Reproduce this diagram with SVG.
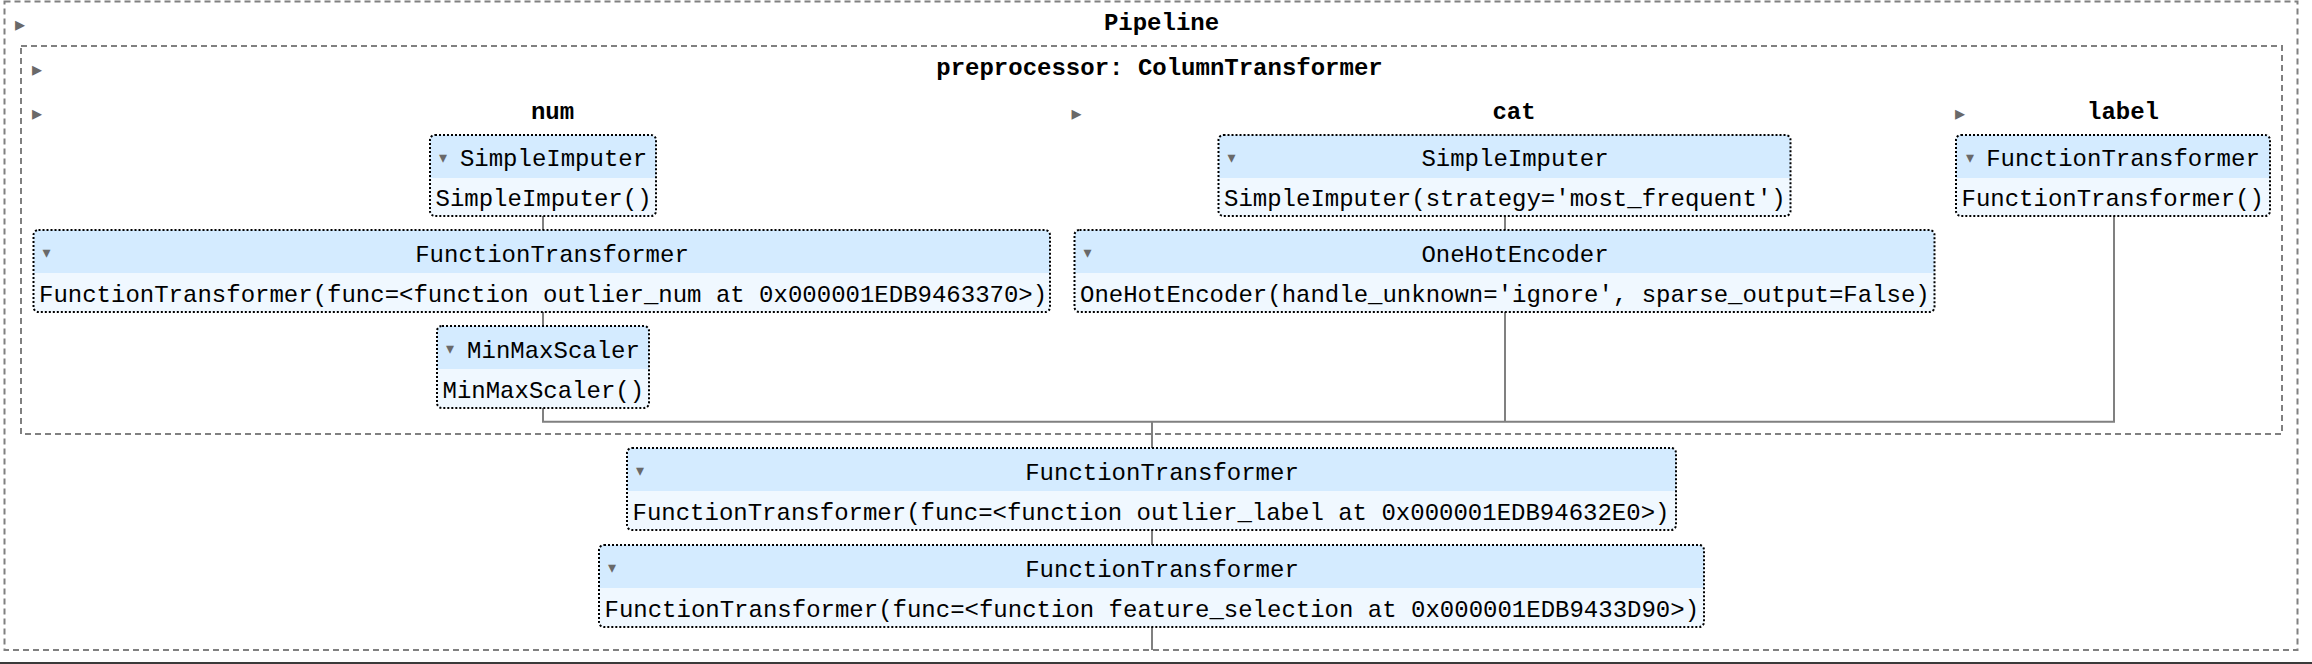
<svg xmlns="http://www.w3.org/2000/svg" width="2312" height="664" viewBox="0 0 2312 664">
<style>
.bg{fill:#ffffff}
.cont{fill:none;stroke:#808080;stroke-width:2;stroke-dasharray:6 4}
.hdr{fill:#d4ebff}
.body{fill:#f0f8ff}
.bord{fill:none;stroke:#000;stroke-width:2;stroke-dasharray:2 2}
.conn{fill:none;stroke:#808080;stroke-width:2}
.t{font-family:"Liberation Mono","DejaVu Sans Mono",monospace;font-size:24px;fill:#000}
.b{font-family:"Liberation Mono","DejaVu Sans Mono",monospace;font-size:24px;font-weight:bold;fill:#000;text-anchor:middle}
.c{text-anchor:middle}
.ad{font-family:"DejaVu Sans",sans-serif;font-size:16px;fill:#696969;text-anchor:middle}
.ar{font-family:"DejaVu Sans",sans-serif;font-size:20px;fill:#696969;text-anchor:middle}
</style>
<rect class="bg" x="0" y="0" width="2312" height="664"/>
<g id="pipeline">
<rect class="cont" x="4.5" y="1.5" width="2293" height="648.5"/>
<text class="ar" x="20" y="31">▸</text>
<text class="b" x="1161.5" y="30">Pipeline</text>
</g>
<g id="preprocessor">
<rect class="cont" x="21" y="46" width="2261" height="388"/>
<text class="ar" x="37" y="76">▸</text>
<text class="b" x="1159.5" y="75">preprocessor: ColumnTransformer</text>
<text class="ar" x="37" y="120">▸</text>
<text class="b" x="552.5" y="119">num</text>
<text class="ar" x="1076.5" y="120">▸</text>
<text class="b" x="1514" y="119">cat</text>
<text class="ar" x="1960" y="120">▸</text>
<text class="b" x="2123" y="119">label</text>
</g>
<g id="connectors">
<line class="conn" x1="543" y1="216" x2="543" y2="230"/>
<line class="conn" x1="543" y1="312" x2="543" y2="326"/>
<polyline class="conn" points="543,408 543,421.7 2114,421.7 2114,216"/>
<line class="conn" x1="1505" y1="216" x2="1505" y2="230"/>
<line class="conn" x1="1505" y1="312" x2="1505" y2="421.7"/>
<line class="conn" x1="1152" y1="421.7" x2="1152" y2="448"/>
<line class="conn" x1="1152" y1="530" x2="1152" y2="545"/>
<line class="conn" x1="1152" y1="627" x2="1152" y2="650"/>
</g>
<g id="num_simpleimputer">
<rect class="hdr" x="430" y="135" width="226" height="81" rx="5"/>
<rect class="body" x="430" y="178" width="226" height="38" rx="5"/>
<rect class="body" x="430" y="178" width="226" height="8"/>
<rect class="bord" x="430" y="135" width="226" height="81" rx="5"/>
<text class="ad" x="443" y="163">▾</text>
<text class="t c" x="553.5" y="166">SimpleImputer</text>
<text class="t" x="435.5" y="206">SimpleImputer()</text>
</g>
<g id="num_functiontransformer">
<rect class="hdr" x="33.5" y="230" width="1016.5" height="82" rx="5"/>
<rect class="body" x="33.5" y="273" width="1016.5" height="39" rx="5"/>
<rect class="body" x="33.5" y="273" width="1016.5" height="8"/>
<rect class="bord" x="33.5" y="230" width="1016.5" height="82" rx="5"/>
<text class="ad" x="46.5" y="258">▾</text>
<text class="t c" x="552" y="262">FunctionTransformer</text>
<text class="t" x="39" y="302">FunctionTransformer(func=&lt;function outlier_num at 0x000001EDB9463370&gt;)</text>
</g>
<g id="num_minmaxscaler">
<rect class="hdr" x="437" y="326" width="212" height="82" rx="5"/>
<rect class="body" x="437" y="369" width="212" height="39" rx="5"/>
<rect class="body" x="437" y="369" width="212" height="8"/>
<rect class="bord" x="437" y="326" width="212" height="82" rx="5"/>
<text class="ad" x="450" y="354">▾</text>
<text class="t c" x="553.5" y="358">MinMaxScaler</text>
<text class="t" x="442.5" y="398">MinMaxScaler()</text>
</g>
<g id="cat_simpleimputer">
<rect class="hdr" x="1218.5" y="135" width="572" height="81" rx="5"/>
<rect class="body" x="1218.5" y="178" width="572" height="38" rx="5"/>
<rect class="body" x="1218.5" y="178" width="572" height="8"/>
<rect class="bord" x="1218.5" y="135" width="572" height="81" rx="5"/>
<text class="ad" x="1231.5" y="163">▾</text>
<text class="t c" x="1515" y="166">SimpleImputer</text>
<text class="t" x="1224" y="206">SimpleImputer(strategy='most_frequent')</text>
</g>
<g id="cat_onehotencoder">
<rect class="hdr" x="1074.5" y="230" width="860" height="82" rx="5"/>
<rect class="body" x="1074.5" y="273" width="860" height="39" rx="5"/>
<rect class="body" x="1074.5" y="273" width="860" height="8"/>
<rect class="bord" x="1074.5" y="230" width="860" height="82" rx="5"/>
<text class="ad" x="1087.5" y="258">▾</text>
<text class="t c" x="1515" y="262">OneHotEncoder</text>
<text class="t" x="1080" y="302">OneHotEncoder(handle_unknown='ignore', sparse_output=False)</text>
</g>
<g id="label_functiontransformer">
<rect class="hdr" x="1956" y="135" width="314" height="81" rx="5"/>
<rect class="body" x="1956" y="178" width="314" height="38" rx="5"/>
<rect class="body" x="1956" y="178" width="314" height="8"/>
<rect class="bord" x="1956" y="135" width="314" height="81" rx="5"/>
<text class="ad" x="1970" y="163">▾</text>
<text class="t c" x="2123" y="166">FunctionTransformer</text>
<text class="t" x="1961.5" y="206">FunctionTransformer()</text>
</g>
<g id="outlier_label_functiontransformer">
<rect class="hdr" x="627" y="448" width="1049" height="82" rx="5"/>
<rect class="body" x="627" y="491" width="1049" height="39" rx="5"/>
<rect class="body" x="627" y="491" width="1049" height="8"/>
<rect class="bord" x="627" y="448" width="1049" height="82" rx="5"/>
<text class="ad" x="640" y="476">▾</text>
<text class="t c" x="1162" y="480">FunctionTransformer</text>
<text class="t" x="632.5" y="520">FunctionTransformer(func=&lt;function outlier_label at 0x000001EDB94632E0&gt;)</text>
</g>
<g id="feature_selection_functiontransformer">
<rect class="hdr" x="599" y="545" width="1105" height="82" rx="5"/>
<rect class="body" x="599" y="588" width="1105" height="39" rx="5"/>
<rect class="body" x="599" y="588" width="1105" height="8"/>
<rect class="bord" x="599" y="545" width="1105" height="82" rx="5"/>
<text class="ad" x="612" y="573">▾</text>
<text class="t c" x="1162" y="577">FunctionTransformer</text>
<text class="t" x="604.5" y="617">FunctionTransformer(func=&lt;function feature_selection at 0x000001EDB9433D90&gt;)</text>
</g>
<rect x="0" y="662" width="2312" height="2" fill="#3a3a3a"/>
</svg>
